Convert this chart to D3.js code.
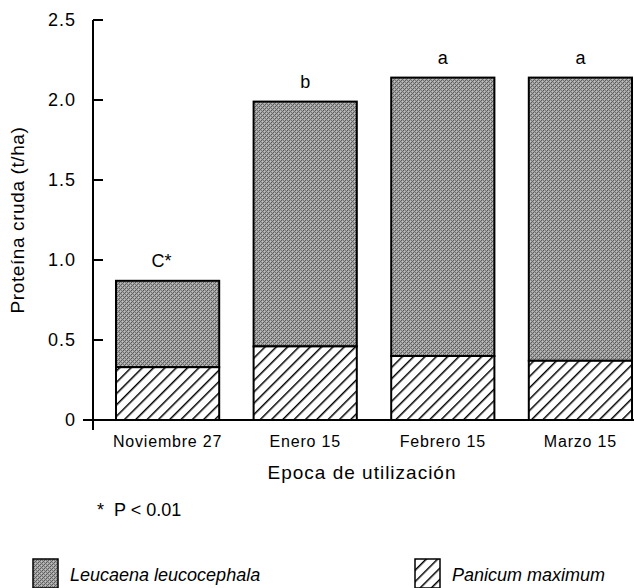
<!DOCTYPE html>
<html>
<head>
<meta charset="utf-8">
<script src="https://cdn.jsdelivr.net/npm/d3@7"></script>
<style>
  body { margin: 0; background: #fff; }
  svg text { font-family: "Liberation Sans", Arial, sans-serif; fill: #000; }
</style>
</head>
<body>
<div id="chart"></div>
<script>
const categories = ["Noviembre 27", "Enero 15", "Febrero 15", "Marzo 15"]
const panicum = [0.33, 0.46, 0.40, 0.37]
const total = [0.87, 1.99, 2.14, 2.14]
const letters = ["C*", "b", "a", "a"]
const yTicks = [0, 0.5, 1.0, 1.5, 2.0, 2.5]

const W = 634, H = 588
const dim = { ml: 93, mt: 20, width: 541, height: 400 }

const svg = d3.select("#chart").append("svg").attr("width", W).attr("height", H)

const defs = svg.append("defs")
// mottled grey screen
const grey = defs.append("pattern").attr("id", "grey").attr("patternUnits", "userSpaceOnUse")
  .attr("width", 4).attr("height", 4)
grey.append("rect").attr("width", 4).attr("height", 4).attr("fill", "#a4a4a4")
const dots = [[0,0,"#5a5a5a"],[2,0,"#767676"],[1,1,"#c4c4c4"],[3,1,"#666666"],[0,2,"#7c7c7c"],[2,2,"#565656"],[1,3,"#6e6e6e"],[3,3,"#bdbdbd"]]
dots.forEach(d => grey.append("rect").attr("x", d[0]).attr("y", d[1]).attr("width", 1).attr("height", 1).attr("fill", d[2]))

const hatch = defs.append("pattern").attr("id", "hatch").attr("patternUnits", "userSpaceOnUse")
  .attr("width", 8).attr("height", 8).attr("patternTransform", "rotate(45)")
hatch.append("rect").attr("width", 8).attr("height", 8).attr("fill", "#fff")
hatch.append("line").attr("x1", 0).attr("y1", 0).attr("x2", 0).attr("y2", 8)
  .attr("stroke", "#000").attr("stroke-width", 3)

const x = d3.scaleBand().domain(categories).range([23, 539]).paddingInner(0.25).paddingOuter(0)
const y = d3.scaleLinear().domain([0, 2.5]).range([dim.height, 0])

const g = svg.append("g").attr("transform", "translate(" + dim.ml + "," + dim.mt + ")")

// bars
categories.forEach((c, i) => {
  g.append("rect")
    .attr("x", x(c)).attr("width", x.bandwidth())
    .attr("y", y(total[i])).attr("height", y(panicum[i]) - y(total[i]))
    .attr("fill", "url(#grey)").attr("stroke", "#000").attr("stroke-width", 2)
  g.append("rect")
    .attr("x", x(c)).attr("width", x.bandwidth())
    .attr("y", y(panicum[i])).attr("height", y(0) - y(panicum[i]))
    .attr("fill", "url(#hatch)").attr("stroke", "#000").attr("stroke-width", 2)
  g.append("text")
    .attr("x", x(c) + x.bandwidth() / 2 - (letters[i].length > 1 ? 6 : 0)).attr("y", y(total[i]) - 14)
    .attr("text-anchor", "middle").attr("font-size", 18).text(letters[i])
})

// y axis
g.append("line").attr("x1", 0).attr("x2", 0).attr("y1", y(2.5)).attr("y2", y(0) + 10)
  .attr("stroke", "#000").attr("stroke-width", 2)
yTicks.forEach(t => {
  g.append("line").attr("x1", t === 0 ? -10 : 0).attr("x2", 10).attr("y1", y(t)).attr("y2", y(t))
    .attr("stroke", "#000").attr("stroke-width", 2)
  g.append("text").attr("x", -17).attr("y", y(t)).attr("dy", "0.36em")
    .attr("text-anchor", "end").attr("font-size", 18).attr("letter-spacing", 1)
    .text(t === 0 ? "0" : t.toFixed(1))
})
// x axis
g.append("line").attr("x1", -10).attr("x2", 541).attr("y1", y(0)).attr("y2", y(0))
  .attr("stroke", "#000").attr("stroke-width", 2)
categories.forEach(c => {
  g.append("text").attr("x", x(c) + x.bandwidth() / 2).attr("y", y(0) + 27)
    .attr("text-anchor", "middle").attr("font-size", 16).attr("letter-spacing", 0.8).text(c)
})

svg.append("text").attr("transform", "translate(24,220) rotate(-90)")
  .attr("text-anchor", "middle").attr("font-size", 19).attr("letter-spacing", 0.6)
  .text("Proteína cruda (t/ha)")
svg.append("text").attr("x", 362).attr("y", 479).attr("text-anchor", "middle")
  .attr("font-size", 19).attr("letter-spacing", 1).text("Epoca de utilización")
svg.append("text").attr("x", 97).attr("y", 516).attr("font-size", 18).text("*")
svg.append("text").attr("x", 114).attr("y", 516).attr("font-size", 18).text("P < 0.01")

// legend
const legend = [
  { label: "Leucaena leucocephala", fill: "url(#grey)", x: 33 },
  { label: "Panicum maximum", fill: "url(#hatch)", x: 415 }
]
legend.forEach(l => {
  svg.append("rect").attr("x", l.x).attr("y", 559).attr("width", 25).attr("height", 29)
    .attr("fill", l.fill).attr("stroke", "#000").attr("stroke-width", 1.5)
  svg.append("text").attr("x", l.x + 37).attr("y", 581).attr("font-size", 18)
    .attr("font-style", "italic").text(l.label)
})
</script>
</body>
</html>
